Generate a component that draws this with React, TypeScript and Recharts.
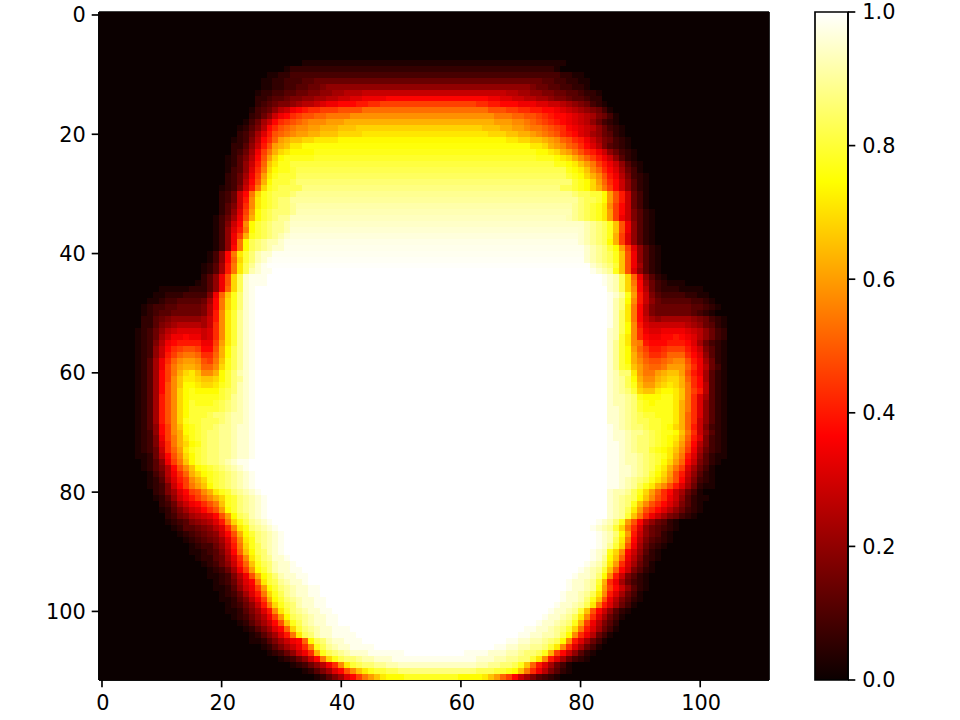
import React from "react";
import {
  ScatterChart,
  Scatter,
  XAxis,
  YAxis,
  ReferenceLine,
  BarChart,
  Bar,
} from "recharts";

// edge cells are one char per heat level, "0" = 0.0 ... "z" = 1.0 (see cellLevel)
// each row: [black cols on the left, left edge, flat middle value, right edge, black cols on the right]
type HeatRow = [number, string, number, string, number];

const heatRows: HeatRow[] = [
  [112, "", 0, "", 0],
  [112, "", 0, "", 0],
  [112, "", 0, "", 0],
  [112, "", 0, "", 0],
  [112, "", 0, "", 0],
  [112, "", 0, "", 0],
  [112, "", 0, "", 0],
  [112, "", 0, "", 0],
  [34, "", 0.03, "", 34],
  [31, "1", 0.06, "1", 35],
  [28, "1122", 0.09, "2211", 31],
  [27, "112233344", 0.14, "44332211", 30],
  [27, "11223344556", 0.2, "6554433221", 30],
  [26, "122334455667788999", 0.28, "9988776655443221", 28],
  [26, "22344566778899aabbcccc", 0.37, "ccbbaa9988766544322", 28],
  [26, "2345667899abccdddeeff", 0.46, "ffeedddcccbbaa98765321", 27],
  [25, "134579acdeffggghhhh", 0.53, "hhhggffeeddcba9876531", 26],
  [25, "2357acdfghhiijjjj", 0.58, "jjjiihhgfeddcba986531", 25],
  [24, "1358adfghijkkklll", 0.63, "lllkkjihgfedcba975321", 25],
  [23, "12469dfhijkkllmmmnnn", 0.68, "nnnmmllkjjihgfdcba975321", 24],
  [23, "2358behijkllmmnnnoooo", 0.71, "ooonnmmlkjihfedba875421", 24],
  [22, "12369dfilmnnoopppp", 0.74, "ppoonnmlkihfeca865321", 23],
  [22, "2247aehlmnpp", 0.755, "ppomlkihfdb964321", 23],
  [22, "2358cgjmopqqqq", 0.77, "qqpomljhfeca75321", 22],
  [21, "12469dhloqrrrrr", 0.79, "rrrqpomkigeca7421", 22],
  [21, "1247aeinprr", 0.81, "rrqpnljgeca7421", 21],
  [21, "1347bfjoqrrs", 0.825, "rqpnkifdb8531", 21],
  [21, "2358cglprsss", 0.84, "srqomkhec96321", 20],
  [21, "2359dhmqssst", 0.86, "srqolifda7421", 20],
  [20, "1236aejorstttt", 0.875, "ttsrqomjgda7421", 20],
  [20, "235adjorstttu", 0.89, "uttssqlhea531", 20],
  [20, "235aekprstuu", 0.9, "uttsqlhea531", 20],
  [20, "246afkprstuuv", 0.915, "vutsrpkgda531", 20],
  [20, "247bglqstuuuv", 0.925, "vutsrplgda6421", 19],
  [19, "1358chmqstuvv", 0.935, "wvutsrplgca6421", 19],
  [19, "136adkqstuvvw", 0.945, "wvutrnhc7421", 19],
  [19, "137bejqstuvvw", 0.955, "xwvutrnhc7421", 19],
  [19, "137cgmrstuvwx", 0.965, "xwvutrmgb7421", 19],
  [19, "137cjqtuvwwx", 0.975, "xwvutqmgb7421", 19],
  [19, "137djqtuvwxx", 0.98, "xwvusqlgb7421", 18],
  [18, "137djpsuwxx", 0.985, "xwvutrnhc7421", 18],
  [18, "137diosuwxy", 0.99, "xwvutrnhc7421", 18],
  [17, "1248ejptvxy", 0.995, "xwvusnhc8421", 18],
  [17, "1248ejptwxyy", 1, "yxwvrnhb7421", 18],
  [17, "247chotxyyy", 1, "yxwtoic7421", 17],
  [16, "1247chotxyyy", 1, "yxwtojd8532111", 14],
  [10, "1111122247ciotxy", 1, "xwtokd9532221111", 11],
  [9, "1122233336cinruxy", 1, "yxvrlea6433332211", 10],
  [8, "11233444458djoruxy", 1, "ywuqkea75444443321", 9],
  [7, "123344555569djoruxy", 1, "ywupjd9655555544321", 8],
  [7, "123445555569ekpsvxy", 1, "ywtpjd965555554321", 9],
  [7, "22456777778aekpsvxy", 1, "ywtpjda8788888765321", 7],
  [7, "2246789999 8afkpsvxy".replace(" ", ""), 1, "ywtqkebaaaaaa9875421", 7],
  [6, "123579abbbbabfkpsvxy", 1, "xwtqkfcbbccccba97532", 7],
  [6, "12358accdccabfkpsvxy", 1, "xwspkfdccddedcb97532", 7],
  [6, "12369cdeeeeccglpsvxy", 1, "xvspkjedddeeedb85321", 7],
  [6, "1237adfghhgddhmqtvxy", 1, "xvsqligeefgggeca6421", 7],
  [6, "1237aegijjiffimqtvxy", 1, "xvsqmjhffgiiifdb7421", 7],
  [6, "1248cfikllkhgjnrtvxy", 1, "xvsqmkihhijkkhec8521", 7],
  [6, "1248cgjlmmliikortvxy", 1, "xvsrnljiijlllifc9531", 7],
  [6, "1248dgjmopnkkmqsuwxy", 1, "xwuupljjlmnnlhec8421", 7],
  [6, "1248dgknpponnoqsuvxy", 1, "xwvtqmkkmnoomifd8421", 7],
  [6, "1248dhknqqpooprsuwxy", 1, "xwvtrnllnopomjfd9421", 7],
  [6, "1248dhkoqrqqqqstuwxy", 1, "xwvusonnpqqpnjge9421", 7],
  [6, "1248ehkoqrrrrrstvwxy", 1, "xwwvurqqqrrpnjfb8421", 7],
  [6, "1248ehkoqsrrrstuvwxy", 1, "xwwvusrqrrrpmjfb7421", 7],
  [6, "1248ehkoqssssstuvwxy", 1, "xxwvusrrrrrpmjfb7421", 7],
  [6, "1248ehkoqssstuuvwwxy", 1, "xxwvutssrrrpmifb7421", 7],
  [6, "1248ehkorsstttuvwwxy", 1, "xxwvuttssrrpmifa7421", 7],
  [6, "1247dgknqrsttuvvwxxy", 1, "yxwvuutssrqomiea6321", 7],
  [6, "1237dgkmqrstuuvvwxxy", 1, "yxxwvvutsrrqnjfa7421", 7],
  [6, "1236cgjmprstuuvvwxxy", 1, "yxxwvuutsrqpmieb6321", 7],
  [6, "1236bfjmoqrtuuvvwxxy", 1, "yyxwvuutsrqolhd96321", 7],
  [6, "1235afilprstuuvvwxxy", 1, "yyxwvuusrqpnkgc85321", 7],
  [6, "11259dhkoqstuuvvwxxy", 1, "yyxwwvutsrpmjeb74211", 7],
  [7, "1247cgjnqstuuvwxyy", 1, "yyxwwvutsqolida6421", 8],
  [7, "12469dhknqrstuvwxy", 1, "yyxxwvutrpmjgb8531", 9],
  [8, "1359cfimoqrstuvwxy", 1, "yyxxwvusqolhea7421", 9],
  [8, "1248begkmorstuvwxy", 1, "yyxwvutrpnkhd96321", 9],
  [8, "1236adgjlnqstuvwxy", 1, "yyxwvtrpmkheb85211", 9],
  [9, "2368bdghkmprsuvwxy", 1, "xwwvtrolifda8531", 11],
  [9, "1247acegikmorsuvwxy", 1, "xwvutqnkhfca74211", 10],
  [10, "2358acdfhjnrsuvwxy", 1, "xwvurnkhfdb96421", 11],
  [10, "12468abdfhlqsuvwxy", 1, "xwvtplhfdb975321", 11],
  [11, "235689abdhlqtuwxy", 1, "xwvsnjfca865321", 12],
  [11, "12346789bejortvwxy", 1, "yxwurlhd975421", 15],
  [12, "12445679bfkpruvwxy", 1, "yxwvsojfb754321", 15],
  [13, "1234567adhmqsuvwxy", 1, "yxwuqlea75421", 16],
  [14, "1234568bfkpruvwxy", 1, "yxwtpjd964321", 16],
  [15, "123357aejortvwxy", 1, "yxvsohc85321", 17],
  [15, "1123469dinqtuwxy", 1, "yxwrokda7421", 18],
  [16, "122458bfkpsuvxxy", 1, "yxvqnic96321", 18],
  [17, "12357aeinrtuwxxy", 1, "yxwuplfb8531", 19],
  [18, "12358cglqsuwxxyy", 1, "yxwvsnida6421", 19],
  [18, "112369chmqsuwxxyy", 1, "yxxwuqkea6421", 20],
  [19, "12358bdjpstvwxxy", 1, "yxxwvsmfc85321", 20],
  [19, "11247acglqsuvwxxyy", 1, "yxxwvrlgda7421", 20],
  [20, "12358bejortvwxxyy", 1, "yxxwvtpkeb8531", 21],
  [20, "112469cgmqsuvwxxyy", 1, "yxxwurnhc96421", 21],
  [21, "12357aejortuwxxyy", 1, "yxxwvtpjeb8531", 22],
  [21, "112468bekpsuvwxxyy", 1, "yxxwvsnhda7421", 23],
  [22, "123579cglqtuvwxxyy", 1, "yxxwvtpkfb8531", 24],
  [23, "12468adhnrtvwxxyy", 1, "yxxwvurmgc9642", 25],
  [24, "12468bdiosuvwxxyyy", 1, "yyxxwvusojeb8531", 25],
  [25, "12468bejptuwxxyyyy", 1, "yyxxwwvtqkfc9531", 26],
  [25, "112468acdiqtuwxxyyy", 1, "yyxxwwvutqkeb8531", 27],
  [27, "12468acfkrtvwxxyyyy", 1, "yyxxwwvvuspkfb8531", 28],
  [28, "12357acfmrtuvwxxxyyyyyy", 1, "yyyyxxxwwvuutrmgda7421", 29],
  [30, "12357adjortuuvwwxxx", 0.98, "xxxwwvvuuspkeb85321", 30],
  [32, "123579cfkpstuuvvww", 0.94, "wwvvuutrnieb8531", 33],
  [34, "12468bdhknprssttuu", 0.87, "utttssrqnjfc96421", 33],
  [36, "12468bdgjlnpqqq", 0.78, "qqqqpnligda864321", 35],
];

const xTicks = [0, 20, 40, 60, 80, 100];
const yTicks = [0, 20, 40, 60, 80, 100];
const barTicks = [0, 0.2, 0.4, 0.6, 0.8, 1];

const COLS = 112;
const PLOT_W = 670;
const PLOT_H = 668;
const font = { fontFamily: "'DejaVu Sans'", fontSize: 20.83, fill: "#000" };
const axisLine = { stroke: "#000", strokeWidth: 1.67 };
const tickLine = { stroke: "#000", strokeWidth: 1.67 };

// the top chars are spaced tighter, steps near white show up a lot
function cellLevel(ch: string) {
  const i = parseInt(ch, 36);
  if (i >= 35) return 1;
  if (i >= 30) return 0.86 + (i - 30) * 0.03;
  return i / 35;
}

// matplotlib "hot"
function hot(v: number) {
  const c = (n: number) => Math.round(255 * Math.max(0, Math.min(1, n)));
  const r = c(0.0416 + (v * (1 - 0.0416)) / 0.365079);
  const g = c((v - 0.365079) / (0.746032 - 0.365079));
  const b = c((v - 0.746032) / (1 - 0.746032));
  return `rgb(${r},${g},${b})`;
}

type Run = { col: number; row: number; span: number; value: number };

const runs: Run[] = [];
heatRows.forEach(([lp, left, mid, right, rp], row) => {
  const n = Math.max(0, COLS - lp - rp - left.length - right.length);
  const cells = [
    ...Array(lp).fill(0),
    ...left.split("").map(cellLevel),
    ...Array(n).fill(mid),
    ...right.split("").map(cellLevel),
    ...Array(rp).fill(0),
  ];
  let start = 0;
  for (let i = 1; i <= COLS; i++) {
    if (i === COLS || cells[i] !== cells[start]) {
      const span = i - start;
      runs.push({ col: start + (span - 1) / 2, row, span, value: cells[start] });
      start = i;
    }
  }
});

function HeatCell(props: any) {
  const { cx, cy, payload } = props;
  const w = (payload.span * PLOT_W) / COLS;
  const h = PLOT_H / COLS;
  return (
    <rect
      x={cx - w / 2}
      y={cy - h / 2}
      width={w + 0.3}
      height={h + 0.3}
      fill={hot(payload.value)}
      shapeRendering="crispEdges"
    />
  );
}

export default function App() {
  return (
    <div style={{ position: "absolute", left: 0, top: 0, width: 960, height: 720 }}>
      <div style={{ position: "absolute", left: 0, top: 0 }}>
        <ScatterChart
          width={780}
          height={720}
          margin={{ top: 12, right: 11, bottom: 0, left: 39 }}
        >
          <XAxis
            type="number"
            dataKey="col"
            domain={[-0.5, 111.5]}
            ticks={xTicks}
            interval={0}
            height={40}
            tick={{ ...font, dx: 1 }}
            axisLine={axisLine}
            tickLine={tickLine}
            tickSize={7.3}
            tickMargin={8}
          />
          <YAxis
            type="number"
            dataKey="row"
            domain={[-0.5, 111.5]}
            reversed
            ticks={yTicks}
            interval={0}
            width={60}
            tick={font}
            axisLine={axisLine}
            tickLine={tickLine}
            tickSize={7.3}
            tickMargin={6}
          />
          <Scatter data={runs} shape={<HeatCell />} isAnimationActive={false} />
          <ReferenceLine x={-0.5} stroke="#000" strokeWidth={1.67} />
          <ReferenceLine x={111.5} stroke="#000" strokeWidth={1.67} />
          <ReferenceLine y={-0.5} stroke="#000" strokeWidth={1.67} />
          <ReferenceLine y={111.5} stroke="#000" strokeWidth={1.67} />
        </ScatterChart>
      </div>
      <div style={{ position: "absolute", left: 780, top: 0 }}>
        <BarChart
          width={180}
          height={720}
          data={[{ name: "bar", top: 1 }]}
          margin={{ top: 12, right: 32, bottom: 40, left: 35 }}
          barCategoryGap={0}
        >
          <defs>
            <linearGradient id="hotBar" x1="0" y1="1" x2="0" y2="0">
              <stop offset="0%" stopColor="#0b0000" />
              <stop offset="36.5%" stopColor="#ff0000" />
              <stop offset="74.6%" stopColor="#ffff00" />
              <stop offset="100%" stopColor="#ffffff" />
            </linearGradient>
          </defs>
          <XAxis dataKey="name" hide />
          <YAxis
            orientation="right"
            domain={[0, 1]}
            ticks={barTicks}
            interval={0}
            width={80}
            tickFormatter={(v) => Number(v).toFixed(1)}
            tick={font}
            axisLine={axisLine}
            tickLine={tickLine}
            tickSize={7.3}
            tickMargin={7}
          />
          <Bar
            dataKey="top"
            fill="url(#hotBar)"
            stroke="#000"
            strokeWidth={1.67}
            isAnimationActive={false}
          />
        </BarChart>
      </div>
    </div>
  );
}
